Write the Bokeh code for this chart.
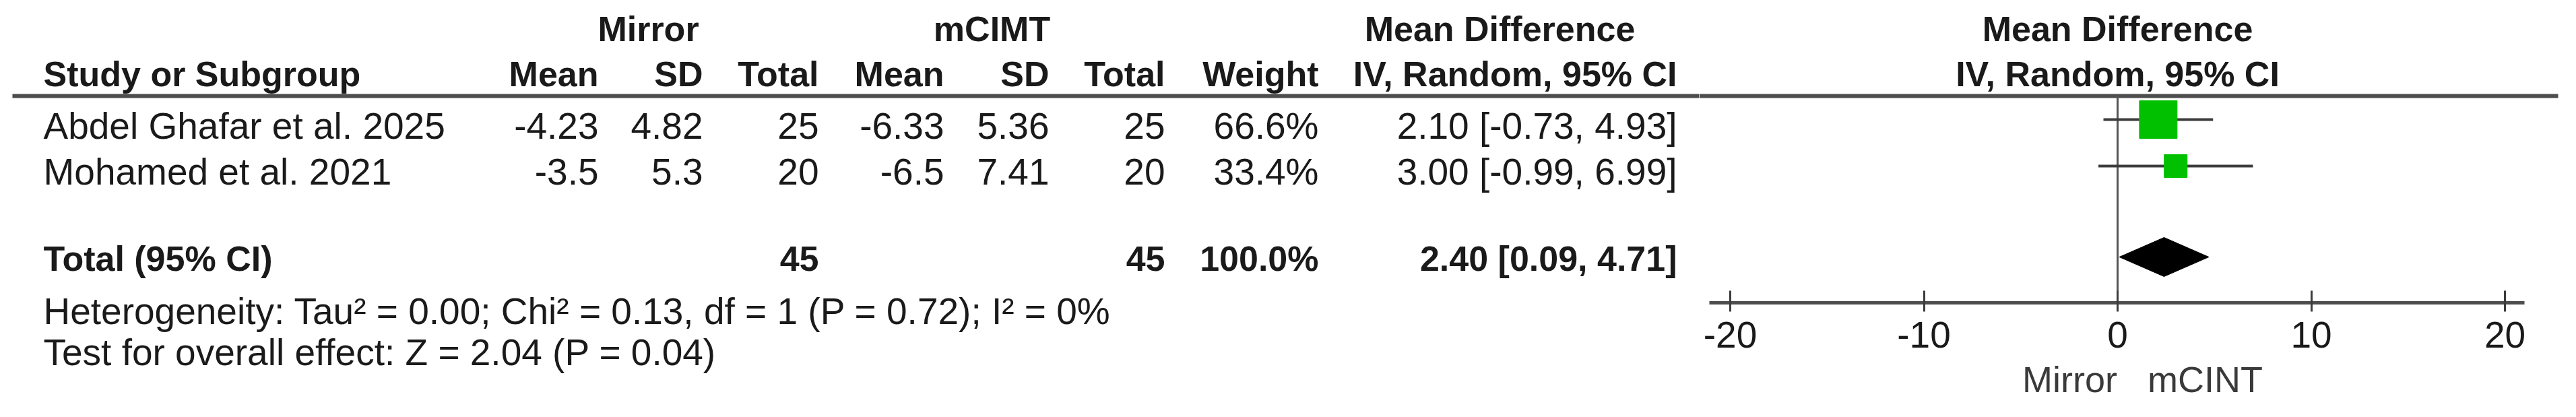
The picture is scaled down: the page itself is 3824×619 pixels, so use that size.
from bokeh.plotting import figure
from bokeh.models import Range1d, ColumnDataSource, FixedTicker
from bokeh.layouts import row
from bokeh.embed import file_html
from bokeh.resources import INLINE
from bokeh.core.properties import value

# ---------------- data ----------------
studies = ["Abdel Ghafar et al. 2025", "Mohamed et al. 2021"]
mirror_mean = [-4.23, -3.5]
mirror_sd = [4.82, 5.3]
mirror_total = [25, 20]
mcimt_mean = [-6.33, -6.5]
mcimt_sd = [5.36, 7.41]
mcimt_total = [25, 20]
weights = [66.6, 33.4]
md = [2.10, 3.00]
ci_lo = [-0.73, -0.99]
ci_hi = [4.93, 6.99]

total_label = "Total (95% CI)"
total_mirror = 45
total_mcimt = 45
total_weight = 100.0
pooled_md = 2.40
pooled_lo = 0.09
pooled_hi = 4.71

heterogeneity = "Heterogeneity: Tau\u00b2 = 0.00; Chi\u00b2 = 0.13, df = 1 (P = 0.72); I\u00b2 = 0%"
overall = "Test for overall effect: Z = 2.04 (P = 0.04)"

tick_values = [-20, -10, 0, 10, 20]
tick_labels = ["-20", "-10", "0", "10", "20"]
favours_left = "Mirror"
favours_right = "mCINT"

# ---------------- layout / style ----------------
FONT = "Liberation Sans"
FS = "55px"
FS_B = "52px"
TXT = "#1a1a1a"
LINE = "#4d4d4d"

H = 603
SPLIT = 2530          # image x where the forest panel starts
LEFT_W = SPLIT - 8
RIGHT_W = 3816 - SPLIT
PX_PER_UNIT = 28.75
ZERO_X = 3151
X0 = (SPLIT - ZERO_X) / PX_PER_UNIT
X1 = (3816 - ZERO_X) / PX_PER_UNIT

# vertical centres of text lines (image pixels)
Y_H1, Y_H2 = 50, 117
Y_ROWS = [194, 262]
Y_TOTAL, Y_HET, Y_TEST = 391, 469, 530
Y_RULE = 150
Y_AXIS = 457
# forest marks
Y_FROWS = [185, 254]
Y_DIAMOND = 389

X_STUDY = 72
X_M_MEAN, X_M_SD, X_M_TOT = 896, 1051, 1223
X_C_MEAN, X_C_SD, X_C_TOT = 1409, 1565, 1737
X_W, X_MD = 1965, 2497


def txt(p, xs, ys, texts, align, bold=False, color=TXT):
    src = ColumnDataSource(dict(x=xs, y=ys, t=texts))
    p.text(x="x", y="y", text="t", source=src, text_align=align,
           text_baseline="middle", text_font=value(FONT),
           text_font_size=FS_B if bold else FS,
           text_font_style="bold" if bold else "normal",
           text_color=color)


def fmt(v):
    return ("%g" % v)


# ---------------- table panel ----------------
tbl = figure(width=LEFT_W, height=H, x_range=Range1d(8, SPLIT),
             y_range=Range1d(611, 8), output_backend="svg",
             toolbar_location=None, min_border=0, outline_line_color=None,
             x_axis_location=None, y_axis_location=None, frame_align=False)
tbl.grid.visible = False

# group headers
txt(tbl, [970, 1480, 2234], [Y_H1] * 3, ["Mirror", "mCIMT", "Mean Difference"], "center", bold=True)
txt(tbl, [X_STUDY], [Y_H2], ["Study or Subgroup"], "left", bold=True)
txt(tbl, [X_M_MEAN, X_M_SD, X_M_TOT, X_C_MEAN, X_C_SD, X_C_TOT, X_W, X_MD], [Y_H2] * 8,
    ["Mean", "SD", "Total", "Mean", "SD", "Total", "Weight", "IV, Random, 95% CI"],
    "right", bold=True)

tbl.segment(x0=[26], y0=[Y_RULE], x1=[SPLIT], y1=[Y_RULE], line_width=6, line_color=LINE)

# study rows
txt(tbl, [X_STUDY] * 2, Y_ROWS, studies, "left")
cols = [
    (X_M_MEAN, [fmt(v) for v in mirror_mean]),
    (X_M_SD, [fmt(v) for v in mirror_sd]),
    (X_M_TOT, [str(v) for v in mirror_total]),
    (X_C_MEAN, [fmt(v) for v in mcimt_mean]),
    (X_C_SD, [fmt(v) for v in mcimt_sd]),
    (X_C_TOT, [str(v) for v in mcimt_total]),
    (X_W, ["%.1f%%" % w for w in weights]),
    (X_MD, ["%.2f [%.2f, %.2f]" % (m, l, h) for m, l, h in zip(md, ci_lo, ci_hi)]),
]
for xc, vals in cols:
    txt(tbl, [xc] * len(vals), Y_ROWS, vals, "right")

# total row
txt(tbl, [X_STUDY], [Y_TOTAL], [total_label], "left", bold=True)
txt(tbl, [X_M_TOT, X_C_TOT, X_W, X_MD], [Y_TOTAL] * 4,
    [str(total_mirror), str(total_mcimt), "%.1f%%" % total_weight,
     "%.2f [%.2f, %.2f]" % (pooled_md, pooled_lo, pooled_hi)], "right", bold=True)

txt(tbl, [X_STUDY, X_STUDY], [Y_HET, Y_TEST], [heterogeneity, overall], "left")

# ---------------- forest panel ----------------
fp = figure(width=RIGHT_W, height=H, x_range=Range1d(X0, X1),
            y_range=Range1d(Y_AXIS, 8), output_backend="svg",
            toolbar_location=None, min_border_left=0, min_border_right=0,
            min_border_top=0, min_border_bottom=611 - Y_AXIS,
            outline_line_color=None, x_axis_location="below",
            y_axis_location=None, frame_align=False)
fp.grid.visible = False

txt(fp, [0], [Y_H1], ["Mean Difference"], "center", bold=True)
txt(fp, [0], [Y_H2], ["IV, Random, 95% CI"], "center", bold=True)
fp.segment(x0=[X0], y0=[Y_RULE], x1=[(3805 - ZERO_X) / PX_PER_UNIT], y1=[Y_RULE],
           line_width=6, line_color=LINE)

fp.segment(x0=[0], y0=[Y_RULE], x1=[0], y1=[Y_AXIS], line_width=3, line_color="#555555")
fp.segment(x0=ci_lo, y0=Y_FROWS, x1=ci_hi, y1=Y_FROWS, line_width=4, line_color="#3c3c3c")
sizes = [12 + 0.66 * w for w in weights]
fp.scatter(x=md, y=Y_FROWS, marker="square", size=sizes,
           fill_color="#00c000", line_color="#00c000")
fp.patch(x=[pooled_lo, pooled_md, pooled_hi, pooled_md],
         y=[Y_DIAMOND, Y_DIAMOND - 29, Y_DIAMOND, Y_DIAMOND + 29],
         fill_color="black", line_color="black")

NB = "\u00a0"
ax = fp.xaxis[0]
ax.ticker = FixedTicker(ticks=tick_values)
ax.major_label_overrides = {v: l for v, l in zip(tick_values, tick_labels)}
ax.bounds = (-21.07, 21.0)
ax.axis_line_width = 5
ax.axis_line_color = LINE
ax.major_tick_line_width = 3
ax.major_tick_line_color = "#3c3c3c"
ax.major_tick_in = 18
ax.major_tick_out = 13
ax.minor_tick_line_color = None
ax.major_label_text_font = FONT
ax.major_label_text_font_size = FS
ax.major_label_text_color = TXT
ax.major_label_standoff = 15
ax.axis_label = NB * 2 + favours_left + NB * 3 + favours_right
ax.axis_label_text_font = FONT
ax.axis_label_text_font_style = "normal"
ax.axis_label_text_font_size = "54px"
ax.axis_label_text_color = "#3a3a3a"
ax.axis_label_standoff = 14

layout = row(tbl, fp)
open("out.html", "w").write(file_html(layout, INLINE))
